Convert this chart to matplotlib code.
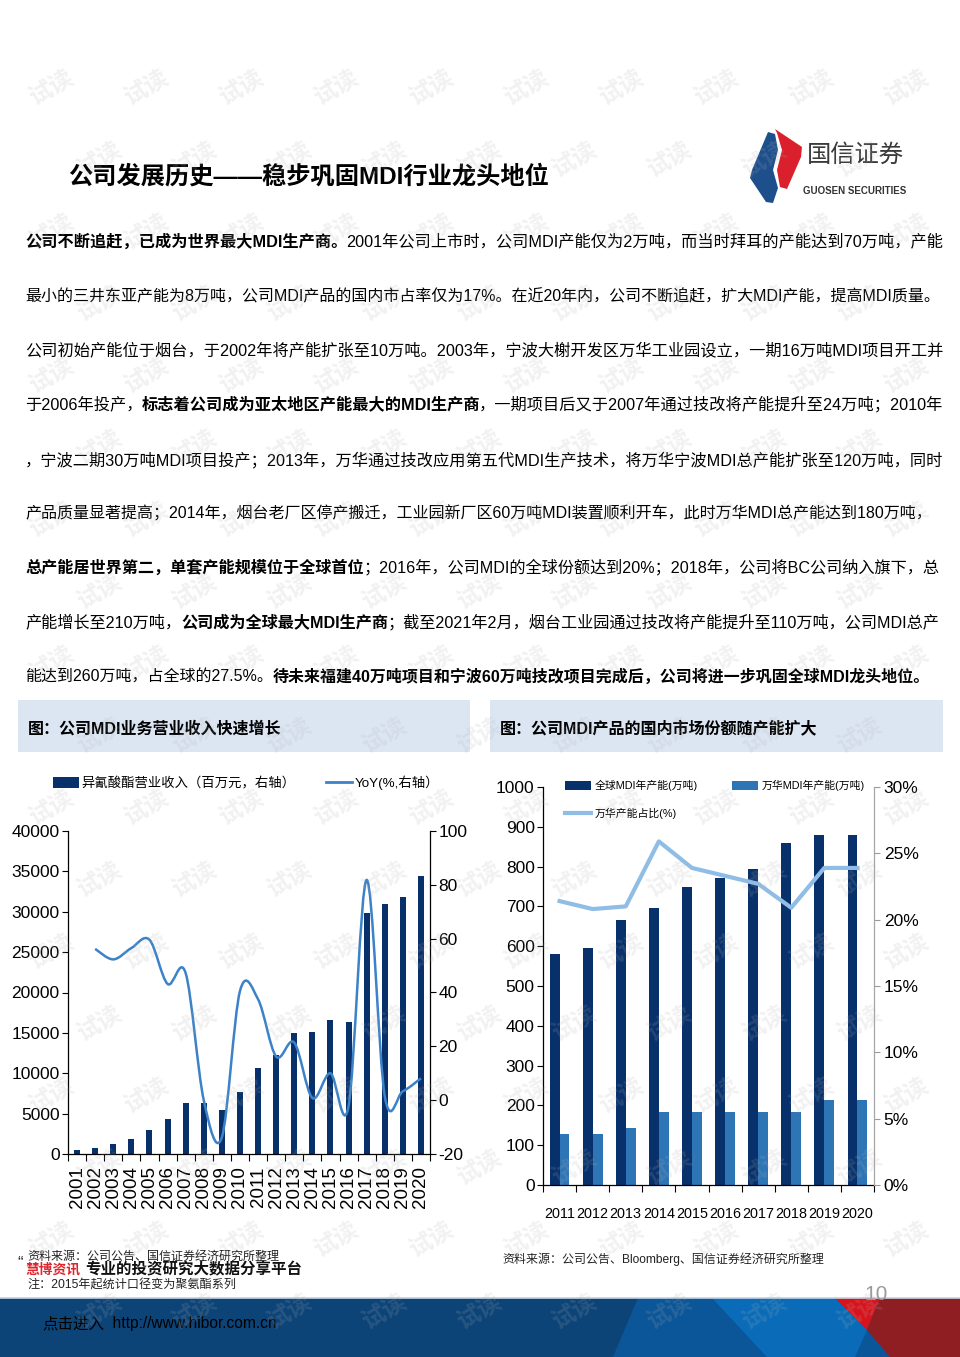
import matplotlib
matplotlib.use('Agg')
import matplotlib.pyplot as plt
import numpy as np
from matplotlib import font_manager as fm
from matplotlib.patches import Rectangle, Polygon, PathPatch, Patch
from matplotlib.path import Path
from matplotlib.lines import Line2D

_names = {f.name for f in fm.fontManager.ttflist}
LATIN = 'Liberation Sans Narrow' if 'Liberation Sans Narrow' in _names else 'Liberation Sans'
FONTS = [LATIN, 'Noto Sans CJK SC', 'DejaVu Sans']
plt.rcParams['font.family'] = FONTS

# ---------------- data ----------------
rev_years = [str(y) for y in range(2001, 2021)]
revenue = [500, 800, 1200, 1900, 3000, 4330, 6300, 6300, 5480, 7670,
           10600, 12300, 14930, 15050, 16540, 16370, 29810, 30930, 31840, 34390]
yoy_years = rev_years[1:]
yoy = [56.2, 52.3, 56.5, 59.6, 43.2, 47.2, 0.0, -13.8, 40.5, 37.5,
       16.2, 21.4, 0.8, 10.0, -2.3, 81.8, 1.5, 3.3, 8.1]

cap_years = [str(y) for y in range(2011, 2021)]
global_cap = [580, 596, 667, 695, 750, 772, 794, 860, 880, 880]
wanhua_cap = [127, 127, 144, 184, 184, 184, 184, 184, 214, 214]
wanhua_share = [0.214, 0.208, 0.210, 0.259, 0.239, 0.233, 0.227, 0.209, 0.239, 0.239]

left_yticks = list(range(0, 40001, 5000))
right_yticks = list(range(-20, 101, 20))
cap_yticks = list(range(0, 1001, 100))
share_yticks = [0, 0.05, 0.10, 0.15, 0.20, 0.25, 0.30]

title = '公司发展历史——稳步巩固MDI行业龙头地位'
body = [
    [('公司不断追赶，已成为世界最大MDI生产商。', True),
     ('2001年公司上市时，公司MDI产能仅为2万吨，而当时拜耳的产能达到70万吨，产能', False)],
    [('最小的三井东亚产能为8万吨，公司MDI产品的国内市占率仅为17%。在近20年内，公司不断追赶，扩大MDI产能，提高MDI质量。', False)],
    [('公司初始产能位于烟台，于2002年将产能扩张至10万吨。2003年，宁波大榭开发区万华工业园设立，一期16万吨MDI项目开工并', False)],
    [('于2006年投产，', False), ('标志着公司成为亚太地区产能最大的MDI生产商', True),
     ('，一期项目后又于2007年通过技改将产能提升至24万吨；2010年', False)],
    [('，宁波二期30万吨MDI项目投产；2013年，万华通过技改应用第五代MDI生产技术，将万华宁波MDI总产能扩张至120万吨，同时', False)],
    [('产品质量显著提高；2014年，烟台老厂区停产搬迁，工业园新厂区60万吨MDI装置顺利开车，此时万华MDI总产能达到180万吨，', False)],
    [('总产能居世界第二，单套产能规模位于全球首位', True),
     ('；2016年，公司MDI的全球份额达到20%；2018年，公司将BC公司纳入旗下，总', False)],
    [('产能增长至210万吨，', False), ('公司成为全球最大MDI生产商', True),
     ('；截至2021年2月，烟台工业园通过技改将产能提升至110万吨，公司MDI总产', False)],
    [('能达到260万吨，占全球的27.5%。', False),
     ('待未来福建40万吨项目和宁波60万吨技改项目完成后，公司将进一步巩固全球MDI龙头地位。', True)],
]
body_centers = [240, 295, 349, 403, 458, 512, 566, 621, 675]
body_right = [940, 936, 940, 940, 940, 932, 940, 940, 926]

W, H = 960, 1357
fig = plt.figure(figsize=(W / 100, H / 100), dpi=100)
fig.patch.set_facecolor('white')
renderer = fig.canvas.get_renderer()


def fx(x):
    return x / W


def fy(y):
    return 1 - y / H


def text_w(s, fs, bold):
    t = fig.text(0, 0, s + '口', fontsize=fs, fontweight='bold' if bold else 'normal')
    w1 = t.get_window_extent(renderer).width
    t.set_text('口')
    w2 = t.get_window_extent(renderer).width
    t.remove()
    return w1 - w2


def draw_line(segs, x0, yc, x1, base_fs=12.0, color='black'):
    widths = [text_w(s, base_fs, b) for s, b in segs]
    fs = base_fs * (x1 - x0) / sum(widths)
    x = x0
    for (s, b), w in zip(segs, widths):
        fig.text(fx(x), fy(yc), s, fontsize=fs, fontweight='bold' if b else 'normal',
                 va='center_baseline', ha='left', color=color)
        x += w * fs / base_fs


# ---------------- title & logo ----------------
draw_line([(title, True)], 68, 174, 548, base_fs=22)

blue_logo = [(768, 132), (752, 170), (750, 178), (766, 202), (773, 203), (778, 188), (773, 170), (778, 150), (775, 134)]
red_logo = [(775, 129), (802, 147), (801, 157), (787, 189), (780, 187), (777, 170), (782, 150), (777, 133)]
fig.patches.append(Polygon([(fx(a), fy(b)) for a, b in blue_logo], closed=True,
                           transform=fig.transFigure, facecolor='#1d4f8c', edgecolor='none'))
fig.patches.append(Polygon([(fx(a), fy(b)) for a, b in red_logo], closed=True,
                           transform=fig.transFigure, facecolor='#d9202c', edgecolor='none'))
fig.text(fx(855), fy(155), '国信证券', fontsize=17.5, color='#3a3a3a', ha='center', va='center',
         family=['Noto Sans CJK SC'])
fig.text(fx(855), fy(191), 'GUOSEN SECURITIES', fontsize=7, color='#333333', ha='center',
         va='center', fontweight='bold', family=[LATIN])

# ---------------- body ----------------
for segs, yc, xr in zip(body, body_centers, body_right):
    draw_line(segs, 25, yc, xr)

# ---------------- section headers ----------------
for x0, x1, txt, tend in [(18, 470, '图：公司MDI业务营业收入快速增长', 281),
                          (490, 943, '图：公司MDI产品的国内市场份额随产能扩大', 818)]:
    fig.patches.append(Rectangle((fx(x0), fy(752)), (x1 - x0) / W, 52 / H,
                                 transform=fig.transFigure, facecolor='#dce6f2', edgecolor='none'))
    draw_line([(txt, True)], x0 + 10, 727, tend, base_fs=13)

# ---------------- left chart ----------------
navy = '#08316b'
line_blue = '#3c82c8'
ax1 = fig.add_axes([fx(68), fy(1154), 362 / W, 323 / H])
xr = np.arange(len(rev_years))
ax1.bar(xr, revenue, width=0.33, color=navy, zorder=2)
ax1.set_xlim(-0.5, len(rev_years) - 0.5)
ax1.set_ylim(0, 40000)
ax1.set_yticks(left_yticks)
ax1.set_yticklabels([str(v) for v in left_yticks], fontsize=12.5)
ax1.set_xticks(xr)
ax1.set_xticklabels(rev_years, rotation=90, fontsize=13.5)
ax1.set_xticks(np.arange(-0.5, len(rev_years)), minor=True)
ax1.tick_params(axis='x', which='major', length=0, pad=9)
ax1.tick_params(axis='x', which='minor', length=5, direction='out', width=0.8)
ax1.tick_params(axis='y', length=4, direction='out', width=0.8, pad=2)
for s in ['top', 'right']:
    ax1.spines[s].set_visible(False)
for s in ['left', 'bottom']:
    ax1.spines[s].set_linewidth(0.9)

ax2 = ax1.twinx()
ax2.set_ylim(-20, 100)
ax2.set_yticks(right_yticks)
ax2.set_yticklabels([str(v) for v in right_yticks], fontsize=12.5)
ax2.tick_params(axis='y', length=4, direction='out', width=0.8, pad=2)
for s in ['top', 'left', 'bottom']:
    ax2.spines[s].set_visible(False)
ax2.spines['right'].set_linewidth(0.9)

# smooth (Bezier) YoY curve through the data points
px = np.arange(1, len(rev_years), dtype=float)
pts = np.column_stack([px, np.array(yoy, dtype=float)])
verts = [tuple(pts[0])]
codes = [Path.MOVETO]
n = len(pts)
for i in range(n - 1):
    p0 = pts[i - 1] if i > 0 else pts[i]
    p1 = pts[i]
    p2 = pts[i + 1]
    p3 = pts[i + 2] if i + 2 < n else pts[i + 1]
    c1 = p1 + (p2 - p0) / 6.0
    c2 = p2 - (p3 - p1) / 6.0
    verts += [tuple(c1), tuple(c2), tuple(p2)]
    codes += [Path.CURVE4] * 3
ax2.add_patch(PathPatch(Path(verts, codes), fill=False, edgecolor=line_blue, lw=1.8,
                        transform=ax2.transData, zorder=3))

h1 = Patch(facecolor=navy, edgecolor='none')
h2 = Line2D([], [], color=line_blue, lw=2)
ax1.legend([h1, h2], ['异氰酸酯营业收入（百万元，右轴）', 'YoY(%,右轴）'], ncol=2,
           loc='center left', bbox_to_anchor=(fx(53), fy(783)), bbox_transform=fig.transFigure,
           frameon=False, fontsize=9.6, handlelength=1.95, handleheight=0.85, handletextpad=0.2,
           columnspacing=2.3, borderpad=0, borderaxespad=0)

# ---------------- right chart ----------------
light_bar = '#2e75b6'
share_col = '#8fbde6'
ax3 = fig.add_axes([fx(543), fy(1185), 331 / W, 398 / H])
xc = np.arange(len(cap_years))
b1 = ax3.bar(xc - 0.15, global_cap, width=0.3, color=navy, zorder=2)
b2 = ax3.bar(xc + 0.15, wanhua_cap, width=0.3, color=light_bar, zorder=2)
ax3.set_xlim(-0.5, len(cap_years) - 0.5)
ax3.set_ylim(0, 1000)
ax3.set_yticks(cap_yticks)
ax3.set_yticklabels([str(v) for v in cap_yticks], fontsize=12.5)
ax3.set_xticks(xc)
ax3.set_xticklabels(cap_years, fontsize=10.4)
ax3.set_xticks(np.arange(-0.5, len(cap_years)), minor=True)
ax3.tick_params(axis='x', which='major', length=0, pad=16)
ax3.tick_params(axis='x', which='minor', length=5, direction='out', width=0.8)
ax3.tick_params(axis='y', length=4, direction='out', width=0.8, pad=2)
for s in ['top', 'right']:
    ax3.spines[s].set_visible(False)
for s in ['left', 'bottom']:
    ax3.spines[s].set_linewidth(0.9)

ax4 = ax3.twinx()
ln, = ax4.plot(xc, wanhua_share, color=share_col, lw=3, zorder=3)
ax4.set_ylim(0, 0.30)
ax4.set_yticks(share_yticks)
ax4.set_yticklabels(['%d%%' % round(v * 100) for v in share_yticks], fontsize=12.5)
ax4.tick_params(axis='y', length=4, direction='out', width=0.8, pad=3, color='#999999')
for s in ['top', 'left', 'bottom']:
    ax4.spines[s].set_visible(False)
ax4.spines['right'].set_color('#a6a6a6')
ax4.spines['right'].set_linewidth(0.9)

ax3.legend([b1, ln, b2], ['全球MDI年产能(万吨)', '万华产能占比(%)', '万华MDI年产能(万吨)'], ncol=2,
           loc='upper left', bbox_to_anchor=(fx(565), fy(780)), bbox_transform=fig.transFigure,
           frameon=False, fontsize=7.8, handlelength=2.4, handleheight=0.8, handletextpad=0.3,
           columnspacing=3.2, labelspacing=1.5, borderpad=0, borderaxespad=0)

# ---------------- sources ----------------
draw_line([('资料来源：公司公告、国信证券经济研究所整理', False)], 27, 1255, 280, base_fs=9, color='#222222')
draw_line([('注：2015年起统计口径变为聚氨酯系列', False)], 27, 1284, 235, base_fs=9, color='#222222')
fig.text(fx(17), fy(1263), '“', fontsize=12, va='center', color='#222222')
draw_line([('慧博资讯', True)], 25, 1268, 80, base_fs=10, color='#e0242b')
draw_line([('专业的投资研究大数据分享平台', True)], 85, 1268, 302, base_fs=11, color='#111111')
draw_line([('资料来源：公司公告、Bloomberg、国信证券经济研究所整理', False)], 502, 1258, 823, base_fs=9,
          color='#222222')

# ---------------- footer band ----------------
def poly(points, color):
    fig.patches.append(Polygon([(fx(a), fy(b)) for a, b in points], closed=True,
                               transform=fig.transFigure, facecolor=color, edgecolor='none'))

poly([(0, 1298), (960, 1298), (960, 1357), (0, 1357)], '#0c4478')
poly([(638, 1298), (960, 1298), (960, 1357), (613, 1357)], '#0b5698')
poly([(712, 1298), (835, 1298), (867, 1330), (855, 1357), (767, 1357)], '#0a6cb8')
poly([(835, 1298), (880, 1298), (867, 1330)], '#d7141d')
poly([(880, 1298), (960, 1298), (960, 1357), (890, 1357), (867, 1330)], '#8e1e22')
fig.lines.append(Line2D([0, 1], [fy(1298), fy(1298)], transform=fig.transFigure, color='#c5d3e3', lw=1.2))
draw_line([('点击进入', False), ('  http://www.hibor.com.cn', False)], 42, 1322, 276, base_fs=12)
fig.text(fx(876), fy(1294), '10', fontsize=15, va='center', ha='center', color='#9a9a9a')

# ---------------- watermark ----------------
for row in range(19):
    yw = 15 + 72 * row
    off = 0 if row % 2 == 0 else -48
    for col in range(11):
        xw = 100 + off + 95 * col
        if xw < 35 or xw > 925 or yw < 25 or yw > 1335:
            continue
        fig.text(fx(xw), fy(yw), '试读', fontsize=17, rotation=30, color='#b0b0b0', alpha=0.17,
                 ha='center', va='center', fontweight='bold', zorder=10,
                 family=['Noto Sans CJK SC'])

fig.savefig('out.png', dpi=100, facecolor='white')
